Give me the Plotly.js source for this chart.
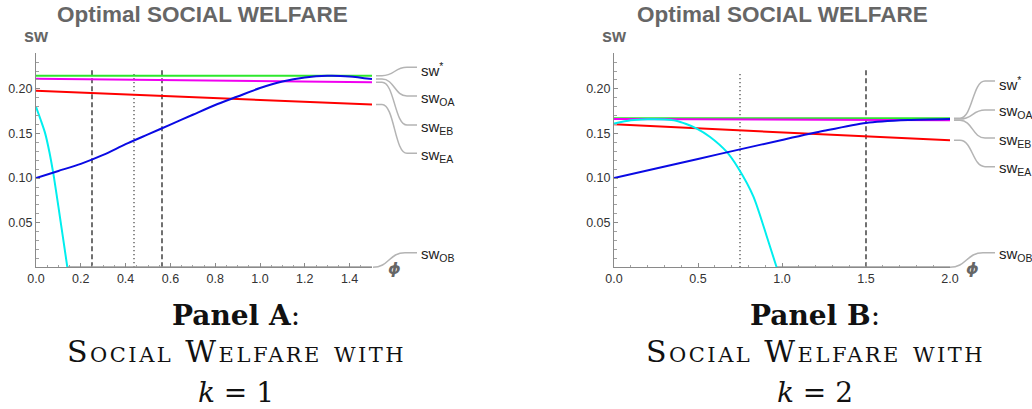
<!DOCTYPE html>
<html><head><meta charset="utf-8">
<script src="https://cdn.plot.ly/plotly-3.0.1.min.js"></script>
<style>html,body{margin:0;padding:0;background:#fff}#chart{width:1032px;height:409px}</style>
</head><body><div id="chart"></div>
<script>
// ---------- DATA ----------
// Panel A (k = 1)
const phiA = [0,0.1,0.2,0.3,0.4,0.5,0.6,0.7,0.8,0.9,1.0,1.1,1.2,1.3,1.4,1.5];
const swStarA = [0.2148,0.2148,0.2148,0.2148,0.2148,0.2148,0.2148,0.2148,0.2148,0.2148,0.2148,0.2148,0.2148,0.2148,0.2148,0.2148];
const swOA_A = [0.100,0.108,0.116,0.126,0.138,0.149,0.160,0.171,0.182,0.1915,0.2010,0.2083,0.2128,0.2147,0.2140,0.2110];
const swEB_A = [0.2114,0.2111,0.2109,0.2106,0.2103,0.2101,0.2098,0.2095,0.2093,0.2090,0.2087,0.2085,0.2082,0.2079,0.2077,0.2074];
const swEA_A = [0.1980,0.1970,0.1959,0.1949,0.1939,0.1928,0.1918,0.1908,0.1897,0.1887,0.1877,0.1866,0.1856,0.1846,0.1835,0.1825];
const phiOB_A = [0,0.02,0.04,0.06,0.08,0.10,0.12,0.14];
const swOB_A = [0.180,0.166,0.151,0.129,0.101,0.068,0.034,0.0];
const floorPhiA = [0.14,1.5];
const floorA = [0,0];
const dashedA = [0.25,0.5625];
const dottedA = [0.4375];
const xTicksA = [0,0.2,0.4,0.6,0.8,1.0,1.2,1.4];
const xTickTextA = ["0.0","0.2","0.4","0.6","0.8","1.0","1.2","1.4"];

// Panel B (k = 2)
const phiB = [0,0.25,0.5,0.75,1.0,1.25,1.5,1.75,2.0];
const swStarB = [0.1672,0.1672,0.1672,0.1672,0.1672,0.1672,0.1672,0.1672,0.1672];
const swOA_B = [0.100,0.1108,0.1215,0.1322,0.1428,0.1530,0.1618,0.1650,0.1662];
const swEB_B = [0.1663,0.1661,0.1659,0.1657,0.1656,0.1654,0.1652,0.1650,0.1648];
const swEA_B = [0.1603,0.1581,0.1558,0.1536,0.1513,0.1491,0.1468,0.1446,0.1423];
const phiOB_B = [0,0.1,0.2,0.3,0.37,0.43,0.49,0.57,0.67,0.74,0.83,0.91,0.968];
const swOB_B = [0.1612,0.1648,0.1660,0.1658,0.1644,0.1607,0.1558,0.1464,0.1296,0.1110,0.0792,0.0343,0.0];
const floorPhiB = [0.968,2.0];
const floorB = [0,0];
const dashedB = [1.5];
const dottedB = [0.75];
const xTicksB = [0,0.5,1.0,1.5,2.0];
const xTickTextB = ["0.0","0.5","1.0","1.5","2.0"];

const yTicks = [0.05,0.10,0.15,0.20];
const yTickText = ["0.05","0.10","0.15","0.20"];
const refLineTop = {dashed:0.222, dotted:0.218};
const seriesLabels = ["sw<sup>*</sup>","sw<sub>OA</sub>","sw<sub>EB</sub>","sw<sub>EA</sub>","sw<sub>OB</sub>"];
const titleText = "Optimal SOCIAL WELFARE";

// ---------- LAYOUT GEOMETRY (pixels) ----------
const W = 1032, H = 409;
const yBot = 267.3, yPxPerUnit = 892, yMax = 0.24;
const yTop = yBot - yMax*yPxPerUnit;
const PA = {x0:36, x1:372, r:[0,1.5], ax:'x', ay:'y'};
const PB = {x0:614, x1:950, r:[0,2.0], ax:'x2', ay:'y2'};
const X = px => px / W;
const Y = py => 1 - py / H;
const dataPy = v => yBot - v*yPxPerUnit;

const COL = {star:'rgb(45,232,45)', oa:'rgb(10,10,228)', eb:'rgb(240,0,240)', ea:'rgb(255,0,0)', ob:'rgb(0,238,238)'};

function line(P, x, y, color, shape){
  return {type:'scatter', mode:'lines', x:x, y:y, xaxis:P.ax, yaxis:P.ay, hoverinfo:'skip',
    line:{color:color, width:2, shape:shape||'linear', smoothing:0.7}};
}
function vline(P, v, top, kind){
  return {type:'scatter', mode:'lines', x:[v,v], y:[0,top], xaxis:P.ax, yaxis:P.ay, hoverinfo:'skip',
    line:{color: kind==='dash' ? '#111' : '#666', width: kind==='dash'?1.2:1.5, dash: kind==='dash' ? '5px,3px' : '1.4px,2.6px'}};
}

const traces = [];
function panelTraces(P, phi, star, oa, eb, ea, phiOB, ob, fphi, fy, dashed, dotted){
  dashed.forEach(v => traces.push(vline(P, v, refLineTop.dashed, 'dash')));
  dotted.forEach(v => traces.push(vline(P, v, refLineTop.dotted, 'dot')));
  traces.push(line(P, fphi, fy, '#9c9c9c'));
  traces.push(line(P, phi, star, COL.star));
  traces.push(line(P, phi, eb, COL.eb));
  traces.push(line(P, phi, ea, COL.ea));
  traces.push(line(P, phiOB, ob, COL.ob, 'spline'));
  traces.push(line(P, phi, oa, COL.oa, 'spline'));
}
panelTraces(PA, phiA, swStarA, swOA_A, swEB_A, swEA_A, phiOB_A, swOB_A, floorPhiA, floorA, dashedA, dottedA);
panelTraces(PB, phiB, swStarB, swOA_B, swEB_B, swEA_B, phiOB_B, swOB_B, floorPhiB, floorB, dashedB, dottedB);

function xaxis(P, tv, tt, minor){
  return {domain:[X(P.x0), X(P.x1)], range:P.r, anchor:P.ay, showline:true, linecolor:'#8a8a8a', linewidth:1,
    ticks:'inside', ticklen:4, tickwidth:1, tickcolor:'#8a8a8a', tickvals:tv, ticktext:tt,
    minor:{dtick:minor, tick0:0, ticks:'inside', ticklen:2.5, tickcolor:'#a0a0a0', tickwidth:1, showgrid:false},
    showgrid:false, zeroline:false, fixedrange:true,
    tickfont:{family:'Liberation Sans, Arial, sans-serif', size:12.5, color:'#333'}};
}
function yaxis(P){
  return {domain:[Y(yBot), Y(yTop)], range:[0,yMax], anchor:P.ax, showline:true, linecolor:'#8a8a8a', linewidth:1,
    ticks:'inside', ticklen:4, tickwidth:1, tickcolor:'#8a8a8a', tickvals:yTicks, ticktext:yTickText,
    minor:{dtick:0.01, tick0:0, ticks:'inside', ticklen:2.5, tickcolor:'#a0a0a0', tickwidth:1, showgrid:false},
    showgrid:false, zeroline:false, fixedrange:true,
    tickfont:{family:'Liberation Sans, Arial, sans-serif', size:12.5, color:'#333'}};
}

// ---------- ANNOTATIONS & LEADERS ----------
const annotations = [];
const shapes = [];
function ann(px, py, text, font, xanchor){
  annotations.push({xref:'paper', yref:'paper', x:X(px), y:Y(py), text:text, showarrow:false,
    xanchor:xanchor||'center', yanchor:'middle', font:font});
}
function leader(x0, y0, lead, x3, y3, curveEnd){
  const x1 = x0 + lead, x2 = curveEnd, cx = (x1 + x2)/2;
  const p = `M${X(x0)},${Y(y0)} L${X(x1)},${Y(y0)} C${X(cx)},${Y(y0)} ${X(cx)},${Y(y3)} ${X(x2)},${Y(y3)} L${X(x3)},${Y(y3)}`;
  shapes.push({type:'path', xref:'paper', yref:'paper', path:p, line:{color:'#b4b4b4', width:1.5}});
}
const labelFont = {family:'Liberation Sans, Arial, sans-serif', size:15, color:'#222'};
const capSerif = 'DejaVu Serif, serif';

function panelDecor(P, ends, labelYs, curveEnd, floorStartPx, captionCx, captionLetter, kVal, titleCx){
  const xs = P.x1 + 4;
  ends.forEach((v, i) => leader(xs, dataPy(v), 6, curveEnd + 10, labelYs[i], curveEnd));
  leader(floorStartPx, dataPy(0), 0, curveEnd + 10, labelYs[4], curveEnd - 2);
  labelYs.forEach((ly, i) => ann(curveEnd + 12, ly + 2, seriesLabels[i], labelFont, 'left'));
  ann(titleCx, 14, '<b>'+titleText+'</b>', {family:'Liberation Sans, Arial, sans-serif', size:22.5, color:'#666'});
  ann(P.x0, 36, '<b>sw</b>', {family:'Liberation Sans, Arial, sans-serif', size:18, color:'#666'});
  ann(P.x1 + 22, 268, '<b><i>ϕ</i></b>', {family:'DejaVu Sans, sans-serif', size:16, color:'#666'});
  ann(captionCx, 315.5, '<b>Panel '+captionLetter+'</b>:', {family:capSerif, size:28, color:'#111'});
  ann(captionCx, 351.5, '<span style="letter-spacing:2.5px">Social Welfare with</span>', {family:capSerif, size:30, color:'#111', variant:'small-caps'});
  ann(captionCx, 392, '<i>k</i> = '+kVal, {family:capSerif, size:28, color:'#111'});
}
panelDecor(PA, [swStarA[swStarA.length-1], swOA_A[swOA_A.length-1], swEB_A[swEB_A.length-1], swEA_A[swEA_A.length-1]],
  [67.3, 96, 125, 153.3, 252.7], 407, 373, 236, 'A', 1, 202);
panelDecor(PB, [swStarB[swStarB.length-1], swOA_B[swOA_B.length-1], swEB_B[swEB_B.length-1], swEA_B[swEA_B.length-1]],
  [81, 110, 138, 166.7, 252.7], 985, 950, 815, 'B', 2, 782);

const layout = {
  width:W, height:H, margin:{l:0,r:0,t:0,b:0}, showlegend:false,
  paper_bgcolor:'#fff', plot_bgcolor:'rgba(0,0,0,0)',
  xaxis: xaxis(PA, xTicksA, xTickTextA, 0.05),
  yaxis: yaxis(PA),
  xaxis2: xaxis(PB, xTicksB, xTickTextB, 0.1),
  yaxis2: yaxis(PB),
  annotations: annotations, shapes: shapes
};
Plotly.newPlot('chart', traces, layout, {displayModeBar:false, staticPlot:true});
</script></body></html>
